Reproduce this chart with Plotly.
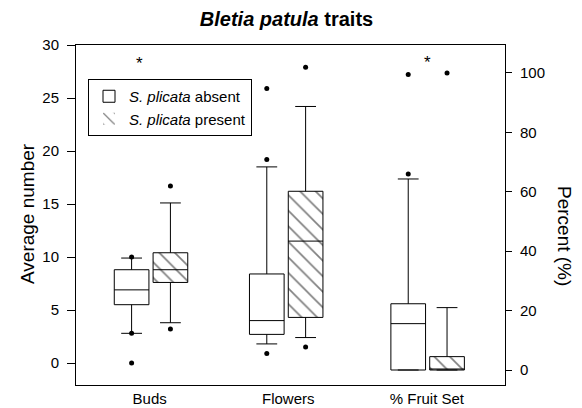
import plotly.graph_objects as go

# Bletia patula traits: box stats
# order: Buds, Flowers, % Fruit Set  (fruit set is on the percent axis)
categories = ["Buds", "Flowers", "% Fruit Set"]

absent_q1 = [5.5, 2.7, 0.0]
absent_median = [6.9, 4.0, 15.6]
absent_q3 = [8.8, 8.4, 22.3]
absent_low = [2.8, 1.8, 0.0]
absent_high = [9.9, 18.5, 64.3]

present_q1 = [7.6, 4.3, 0.0]
present_median = [8.8, 11.5, 0.0]
present_q3 = [10.4, 16.2, 4.5]
present_low = [3.8, 2.4, 0.0]
present_high = [15.1, 24.2, 21.0]

# extreme points (5th / 95th percentiles) per category
absent_points = [[10.0, 2.8, 0.0], [19.2, 25.9, 0.9], [66.0, 99.5]]
present_points = [[16.7, 3.2], [27.9, 1.5], [100.0]]

# significance stars: (category index, value)
stars = [(0, 28.3), (2, 103.5)]

centers = [1.01, 1.985, 3.005]
offset = 0.14
box_w = 0.25
font = "Arial, Liberation Sans, sans-serif"

fig = go.Figure()

# hatched fill for the "present" boxes (drawn first so box outlines sit on top)
for i, cat in enumerate(categories):
    fig.add_trace(go.Bar(
        x=[centers[i] + offset],
        base=[present_q1[i]],
        y=[present_q3[i] - present_q1[i]],
        width=box_w,
        marker=dict(
            color="white",
            line=dict(width=0),
            pattern=dict(shape="\\", fgcolor="black", bgcolor="white",
                         size=11, solidity=0.15),
        ),
        yaxis="y2" if i == 2 else "y",
        name="<i>S. plicata</i> present",
        legendrank=2,
        showlegend=(i == 0),
        hoverinfo="skip",
    ))

for i, cat in enumerate(categories):
    ax = "y2" if i == 2 else "y"
    fig.add_trace(go.Box(
        x=[centers[i] - offset],
        q1=[absent_q1[i]], median=[absent_median[i]], q3=[absent_q3[i]],
        lowerfence=[absent_low[i]], upperfence=[absent_high[i]],
        width=box_w, whiskerwidth=0.6, boxpoints=False,
        fillcolor="white", line=dict(color="black", width=1),
        yaxis=ax, name="<i>S. plicata</i> absent",
        legendrank=1, showlegend=(i == 0),
    ))
    fig.add_trace(go.Box(
        x=[centers[i] + offset],
        q1=[present_q1[i]], median=[present_median[i]], q3=[present_q3[i]],
        lowerfence=[present_low[i]], upperfence=[present_high[i]],
        width=box_w, whiskerwidth=0.6, boxpoints=False,
        fillcolor="rgba(0,0,0,0)", line=dict(color="black", width=1),
        yaxis=ax, showlegend=False,
    ))
    fig.add_trace(go.Scatter(
        x=[centers[i] - offset] * len(absent_points[i]), y=absent_points[i],
        mode="markers", marker=dict(color="black", size=5),
        yaxis=ax, showlegend=False,
    ))
    fig.add_trace(go.Scatter(
        x=[centers[i] + offset] * len(present_points[i]), y=present_points[i],
        mode="markers", marker=dict(color="black", size=5),
        yaxis=ax, showlegend=False,
    ))

plot_l, plot_r, plot_t, plot_b = 76, 505, 45, 385


def px_x(v):
    return (v - plot_l) / (plot_r - plot_l)


def px_y(v):
    return (plot_b - v) / (plot_b - plot_t)


annotations = [
    dict(text="Average number", textangle=-90, x=px_x(27), y=px_y(214),
         xref="paper", yref="paper", xanchor="center", yanchor="middle",
         showarrow=False, font=dict(size=19, color="black")),
    dict(text="Percent (%)", textangle=90, x=px_x(565), y=px_y(236),
         xref="paper", yref="paper", xanchor="center", yanchor="middle",
         showarrow=False, font=dict(size=19, color="black")),
]

for idx, val in stars:
    annotations.append(dict(
        text="*", x=centers[idx] - (0.08 if idx == 0 else 0), y=val,
        xref="x", yref="y2" if idx == 2 else "y", showarrow=False,
        font=dict(size=17, color="black"),
    ))

fig.update_layout(
    width=582, height=408,
    margin=dict(l=plot_l, r=582 - plot_r, t=plot_t, b=408 - plot_b),
    plot_bgcolor="white", paper_bgcolor="white",
    font=dict(family=font, size=14, color="black"),
    title=dict(text="<b><i>Bletia patula</i> traits</b>", x=286.5 / 582, xanchor="center",
               y=1 - 19 / 408, yanchor="middle", font=dict(size=20)),
    barmode="overlay", boxmode="overlay",
    showlegend=True,
    legend=dict(x=px_x(88), y=px_y(79),
                xanchor="left", yanchor="top", bgcolor="white",
                bordercolor="black", borderwidth=1, font=dict(size=15),
                tracegroupgap=0),
    xaxis=dict(range=[0.469, 3.563], tickvals=[1, 2, 3], ticktext=categories,
               showline=True, linecolor="black", linewidth=1, mirror=True,
               showgrid=False, zeroline=False, ticks="", tickfont=dict(size=15),
               automargin=False),
    yaxis=dict(range=[-2.075, 30.0], tickvals=[0, 5, 10, 15, 20, 25, 30],
               showline=True, linecolor="black", linewidth=1, ticks="outside",
               ticklen=8, tickcolor="black", showgrid=False, zeroline=False,
               ticklabelstandoff=5, tickfont=dict(size=15), automargin=False),
    yaxis2=dict(range=[-5.05, 109.4], tickvals=[0, 20, 40, 60, 80, 100],
                overlaying="y", side="right", showline=True, linecolor="black",
                linewidth=1, ticks="outside", ticklen=6, tickcolor="black",
                showgrid=False, zeroline=False, ticklabelstandoff=5,
                tickfont=dict(size=15), automargin=False),
    annotations=annotations,
)

# page body has a default 8px margin; drop it so the chart sits at (0, 0)
fig.write_html("out.html", config={"displayModeBar": False},
               post_script="document.body.style.margin='0';")
